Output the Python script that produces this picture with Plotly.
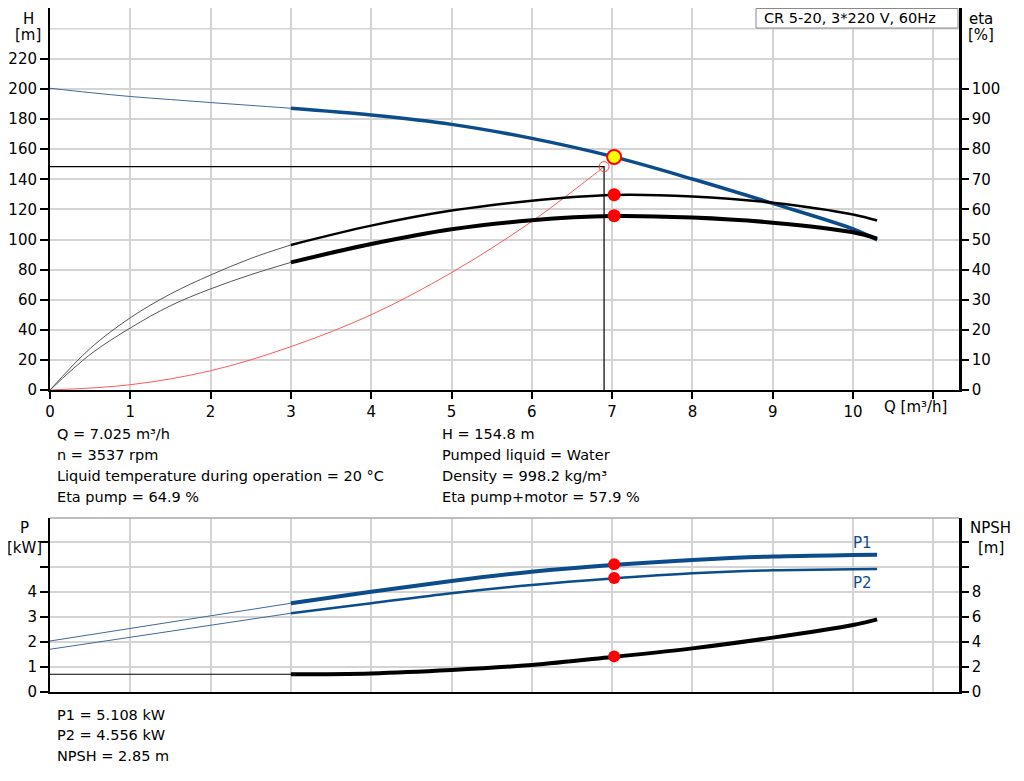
import plotly.graph_objects as go

# ---------------- data ----------------
Q_thin = [0, 0.5, 1, 1.5, 2, 2.5, 3]
Q_main = [3, 4, 5, 6, 7, 8, 9, 10, 10.3]

H_thin = [200.5, 197.6, 195.0, 193.0, 191.0, 189.1, 187.2]
H_main = [187.2, 182.7, 176.5, 167.2, 155.2, 140.2, 124.0, 107.0, 99.7]

eta_p_thin = [0, 13.8, 24.0, 31.9, 38.2, 43.7, 48.2]
eta_p_main = [48.2, 54.6, 59.6, 62.9, 64.8, 64.3, 62.2, 58.3, 56.3]

eta_pm_thin = [0, 11.8, 20.6, 28.0, 33.6, 38.3, 42.4]
eta_pm_main = [42.4, 48.5, 53.4, 56.4, 57.8, 57.3, 55.6, 52.4, 50.3]

Q_sys = [0, 1, 2, 3, 4, 5, 6, 6.9]
H_sys = [0, 3.5, 12.8, 28.8, 50.0, 78.0, 112.0, 148.4]

Q_P_thin = [0, 3]
P1_thin = [2.04, 3.55]
P2_thin = [1.71, 3.15]
NPSH_thin = [1.42, 1.42]

P1_main = [3.55, 4.01, 4.44, 4.81, 5.08, 5.28, 5.42, 5.48, 5.49]
P2_main = [3.15, 3.55, 3.95, 4.28, 4.54, 4.75, 4.87, 4.91, 4.92]
NPSH_main = [1.42, 1.49, 1.76, 2.16, 2.80, 3.49, 4.35, 5.36, 5.81]

Q_duty = 7.025
H_duty = 154.8
eta_duty = 64.9
eta_pm_duty = 57.9
P1_duty = 5.108
P2_duty = 4.556
NPSH_duty = 2.85
Q_sys_pt = 6.9
H_sys_pt = 148.4
speed = 3537

x_ticks = list(range(0, 12))
x_ticktext = [str(v) for v in range(0, 11)] + [""]
H_ticks = list(range(0, 221, 20))
eta_ticks = list(range(0, 101, 10))
P_ticks = [0, 1, 2, 3, 4, 5, 6]
P_ticktext = ["0", "1", "2", "3", "4", "", ""]
NPSH_ticks = [0, 2, 4, 6, 8, 10, 12]
NPSH_ticktext = ["0", "2", "4", "6", "8", "", ""]

# ---------------- styling ----------------
BLUE = "#0d4c8b"
GRID = "#d4d4d4"
FONT = "DejaVu Sans, Liberation Sans, Arial, sans-serif"
FS = 15
FS_TXT = 14.5

OFF = 8  # page body margin
L, R, T, B = 42, 65, 0, 89
W, HH = 1016, 773
PW, PH = W - L - R, HH - T - B


def px(x):  # page x -> paper fraction
    return (x - OFF - L) / PW


def py(y):  # page y -> paper fraction
    return (HH - B - (y - OFF)) / PH


fig = go.Figure()

# system curve & duty lines (top)
fig.add_trace(go.Scatter(x=Q_sys, y=H_sys, mode="lines", line=dict(color="#ff5a5a", width=1),
                         line_shape="spline", xaxis="x", yaxis="y", hoverinfo="skip"))
fig.add_trace(go.Scatter(x=[0, Q_sys_pt, Q_sys_pt], y=[H_sys_pt, H_sys_pt, 0], mode="lines",
                         line=dict(color="black", width=1.2), xaxis="x", yaxis="y"))

# thin parts
fig.add_trace(go.Scatter(x=Q_thin, y=H_thin, mode="lines", line=dict(color="#3d6a99", width=1),
                         line_shape="spline", xaxis="x", yaxis="y"))
fig.add_trace(go.Scatter(x=Q_thin, y=eta_p_thin, mode="lines", line=dict(color="#555555", width=1),
                         line_shape="spline", xaxis="x", yaxis="y2"))
fig.add_trace(go.Scatter(x=Q_thin, y=eta_pm_thin, mode="lines", line=dict(color="#555555", width=1),
                         line_shape="spline", xaxis="x", yaxis="y2"))
# thick parts
fig.add_trace(go.Scatter(x=Q_main, y=eta_p_main, mode="lines", line=dict(color="black", width=2.5),
                         line_shape="spline", xaxis="x", yaxis="y2"))
fig.add_trace(go.Scatter(x=Q_main, y=eta_pm_main, mode="lines", line=dict(color="black", width=4),
                         line_shape="spline", xaxis="x", yaxis="y2"))
fig.add_trace(go.Scatter(x=Q_main, y=H_main, mode="lines", line=dict(color=BLUE, width=3.5),
                         line_shape="spline", xaxis="x", yaxis="y"))
# markers top
fig.add_trace(go.Scatter(x=[Q_duty, Q_duty], y=[eta_duty, eta_pm_duty], mode="markers",
                         marker=dict(color="#ff0000", size=13), xaxis="x", yaxis="y2"))
fig.add_trace(go.Scatter(x=[Q_sys_pt], y=[H_sys_pt], mode="markers",
                         marker=dict(symbol="circle-open", color="#ff4040", size=10, line=dict(width=1)),
                         xaxis="x", yaxis="y"))
fig.add_trace(go.Scatter(x=[Q_duty], y=[H_duty], mode="markers",
                         marker=dict(color="#ffff00", size=14, line=dict(color="#ff0000", width=2)),
                         xaxis="x", yaxis="y"))

# bottom chart
fig.add_trace(go.Scatter(x=Q_P_thin, y=P1_thin, mode="lines", line=dict(color="#3d6a99", width=1),
                         xaxis="x2", yaxis="y3"))
fig.add_trace(go.Scatter(x=Q_P_thin, y=P2_thin, mode="lines", line=dict(color="#3d6a99", width=1),
                         xaxis="x2", yaxis="y3"))
fig.add_trace(go.Scatter(x=Q_P_thin, y=NPSH_thin, mode="lines", line=dict(color="black", width=1.2),
                         xaxis="x2", yaxis="y4"))
fig.add_trace(go.Scatter(x=Q_main, y=P1_main, mode="lines", line=dict(color=BLUE, width=4),
                         line_shape="spline", xaxis="x2", yaxis="y3"))
fig.add_trace(go.Scatter(x=Q_main, y=P2_main, mode="lines", line=dict(color=BLUE, width=2.5),
                         line_shape="spline", xaxis="x2", yaxis="y3"))
fig.add_trace(go.Scatter(x=Q_main, y=NPSH_main, mode="lines", line=dict(color="black", width=4),
                         line_shape="spline", xaxis="x2", yaxis="y4"))
fig.add_trace(go.Scatter(x=[Q_duty, Q_duty], y=[P1_duty, P2_duty], mode="markers",
                         marker=dict(color="#ff0000", size=12), xaxis="x2", yaxis="y3"))
fig.add_trace(go.Scatter(x=[Q_duty], y=[NPSH_duty], mode="markers",
                         marker=dict(color="#ff0000", size=12), xaxis="x2", yaxis="y4"))

x_range = [0, PW / 80.3]
top_dom = [py(390), 1]
bot_dom = [0, py(518)]
H_range = [0, (390 - OFF) / 1.505]
P_range = [0, 174 / 25]

common_x = dict(range=x_range, tickvals=x_ticks, showgrid=True, gridcolor=GRID, gridwidth=1.5,
                zeroline=False, showline=True, linecolor="black", linewidth=2,
                tickfont=dict(family=FONT, size=FS, color="black"))

fig.update_layout(
    width=W, height=HH,
    margin=dict(l=L, r=R, t=T, b=B, pad=0),
    paper_bgcolor="white", plot_bgcolor="white",
    showlegend=False,
    font=dict(family=FONT, size=FS, color="black"),
    xaxis=dict(**common_x, domain=[0, 1], anchor="y", ticktext=x_ticktext, ticks="outside",
               ticklen=7, tickwidth=1.5, tickcolor="black"),
    xaxis2=dict(**common_x, domain=[0, 1], anchor="y3", showticklabels=False, ticks=""),
    yaxis=dict(domain=top_dom, range=H_range, tickvals=H_ticks, ticks="outside", ticklen=8,
               tickwidth=1.5, tickcolor="black", showgrid=True, gridcolor=GRID, gridwidth=1.5,
               zeroline=False, showline=True, linecolor="black", linewidth=2, anchor="x"),
    yaxis2=dict(overlaying="y", side="right", anchor="x", range=[0, H_range[1] / 2],
                tickvals=eta_ticks, ticks="outside", ticklen=7, tickwidth=1.5, tickcolor="black",
                showgrid=False, zeroline=False, showline=True, linecolor="black", linewidth=2.5),
    yaxis3=dict(domain=bot_dom, range=P_range, tickvals=P_ticks, ticktext=P_ticktext, anchor="x2",
                ticks="outside", ticklen=8, tickwidth=1.5, tickcolor="black", showgrid=True,
                gridcolor=GRID, gridwidth=1.5, zeroline=False, showline=True, linecolor="black",
                linewidth=2),
    yaxis4=dict(overlaying="y3", side="right", anchor="x2", range=[0, P_range[1] * 2],
                tickvals=NPSH_ticks, ticktext=NPSH_ticktext, ticks="outside", ticklen=7,
                tickwidth=1.5, tickcolor="black", showgrid=False, zeroline=False, showline=True,
                linecolor="black", linewidth=2.5),
)

shapes = [
    # extra grid line at H=240
    dict(type="line", xref="paper", yref="y", x0=0, x1=1, y0=240, y1=240,
         line=dict(color=GRID, width=1.5), layer="below"),
    # top border of lower chart
    dict(type="line", xref="paper", yref="paper", x0=0, x1=1, y0=py(518), y1=py(518),
         line=dict(color="#a8a8a8", width=1.5)),
    # legend box
    dict(type="rect", xref="paper", yref="paper", x0=px(756), x1=px(958), y0=py(28), y1=py(8.5),
         line=dict(color="#8a8a8a", width=1), fillcolor="white"),
]
fig.update_layout(shapes=shapes)


def txt(x, y, s, anchor="left", color="black", size=FS_TXT, vanchor="middle"):
    return dict(x=px(x), y=py(y), xref="paper", yref="paper", text=s, showarrow=False,
                xanchor=anchor, yanchor=vanchor, font=dict(family=FONT, size=size, color=color))


ann = [
    txt(762, 18, "CR 5-20, 3*220 V, 60Hz"),
    txt(28, 8, "H", "center", size=FS, vanchor="top"), txt(28, 35, "[m]", "center", size=FS),
    txt(981, 8, "eta", "center", size=FS, vanchor="top"), txt(981, 35, "[%]", "center", size=FS),
    txt(949, 407, "Q [m³/h]", "right", size=FS),
    txt(24, 528, "P", "center", size=FS), txt(24, 548, "[kW]", "center", size=FS),
    txt(991, 528, "NPSH", "center", size=FS), txt(991, 548, "[m]", "center", size=FS),
    txt(55, 434, f"Q = {Q_duty} m³/h"),
    txt(55, 455, f"n = {speed} rpm"),
    txt(55, 476, "Liquid temperature during operation = 20 °C"),
    txt(55, 497, f"Eta pump = {eta_duty} %"),
    txt(440, 434, f"H = {H_duty} m"),
    txt(440, 455, "Pumped liquid = Water"),
    txt(440, 476, "Density = 998.2 kg/m³"),
    txt(440, 497, f"Eta pump+motor = {eta_pm_duty} %"),
    txt(862, 543, "P1", "center", BLUE, size=FS),
    txt(862, 583, "P2", "center", BLUE, size=FS),
    txt(55, 715, f"P1 = {P1_duty} kW"),
    txt(55, 735, f"P2 = {P2_duty} kW"),
    txt(55, 756, f"NPSH = {NPSH_duty} m"),
]
fig.update_layout(annotations=ann)

fig.write_html("out.html")
